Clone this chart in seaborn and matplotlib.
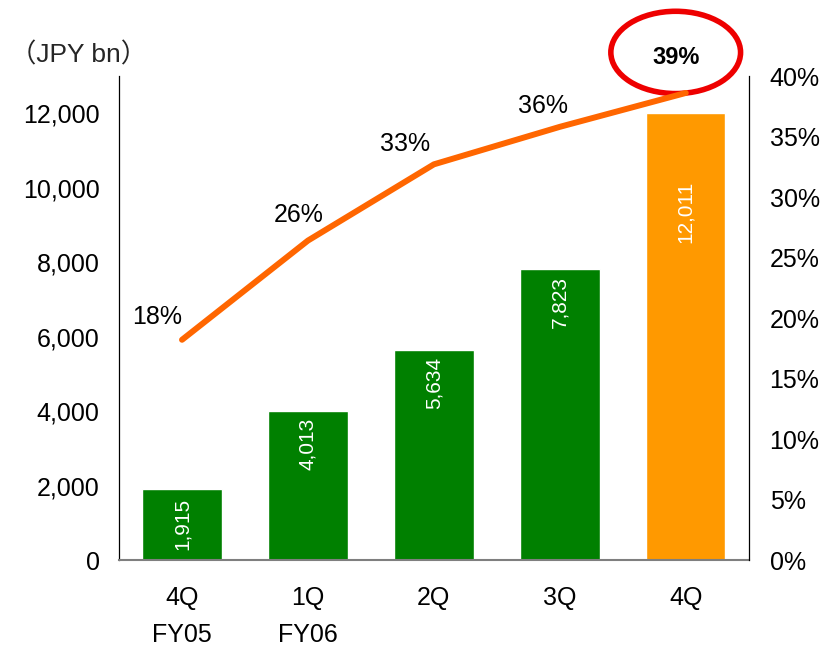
import matplotlib
matplotlib.use("Agg")
import matplotlib.pyplot as plt
from matplotlib.patches import Ellipse
import seaborn as sns
import pandas as pd

# Data
quarters = ["4Q\nFY05", "1Q\nFY06", "2Q", "3Q", "4Q"]
balance = [1915, 4013, 5634, 7823, 12011]          # JPY bn
share_pct = [18.2, 26.4, 32.7, 35.8, 38.6]           # %
bar_colors = ["#008000", "#008000", "#008000", "#008000", "#FF9900"]
left_ticks = [0, 2000, 4000, 6000, 8000, 10000, 12000]
right_ticks = [0, 5, 10, 15, 20, 25, 30, 35, 40]

sns.set_theme(style="white")
plt.rcParams["font.family"] = ["Liberation Sans", "Noto Sans CJK JP", "DejaVu Sans"]

df = pd.DataFrame({"quarter": quarters, "balance": balance})

fig = plt.figure(figsize=(8.21, 6.48), dpi=100)
ax = fig.add_axes([0.145, 0.1358, 0.767, 0.7469])

sns.barplot(data=df, x="quarter", y="balance", hue="quarter", palette=bar_colors,
            order=quarters, width=0.63, legend=False, saturation=1, ax=ax)
ax.set_xlim(-0.5, 4.5)
ax.set_ylim(0, 13000)
ax.set_yticks(left_ticks)
ax.set_yticklabels([f"{v:,}" for v in left_ticks])
ax.set_xlabel("")
ax.set_ylabel("")
ax.tick_params(axis="y", length=0, pad=14, labelsize=18, colors="black")
ax.tick_params(axis="x", length=0, pad=19, labelsize=18, colors="black")
for lab in ax.get_xticklabels():
    lab.set_linespacing(1.65)
    lab.set_verticalalignment("top")

for side in ["top", "right"]:
    ax.spines[side].set_visible(False)
ax.spines["left"].set_color("black")
ax.spines["left"].set_linewidth(0.9)
ax.spines["bottom"].set_color("#7f7f7f")
ax.spines["bottom"].set_linewidth(1.5)

# Value labels inside the bars
for i, v in enumerate(balance):
    if i == 0:
        ax.annotate(f"{v:,}", (i, v / 2), ha="center", va="center", rotation=90,
                    color="white", fontsize=15)
    else:
        off = -49 if i == 4 else -5
        ax.annotate(f"{v:,}", (i, v), xytext=(0, off), textcoords="offset points",
                    ha="center", va="top", rotation=90, color="white", fontsize=15)

# Share line on the right axis
ax2 = ax.twinx()
sns.lineplot(x=list(range(len(share_pct))), y=[p / 100 for p in share_pct], ax=ax2,
             color="#FF6600", linewidth=4.3, solid_capstyle="round")
ax2.set_ylim(0, 0.40)
ax2.set_xlim(-0.5, 4.5)
ax2.set_yticks([t / 100 for t in right_ticks])
ax2.set_yticklabels([f"{t}%" for t in right_ticks])
ax2.tick_params(axis="y", length=0, pad=15, labelsize=18, colors="black")
ax2.set_ylabel("")
for side in ["top", "left", "bottom"]:
    ax2.spines[side].set_visible(False)
ax2.spines["right"].set_color("black")
ax2.spines["right"].set_linewidth(0.9)

label_offsets = [(-18, 8), (-7, 10), (-21, 6), (-12, 6), (-7, 17)]
for i, (p, (dx, dy)) in enumerate(zip(share_pct, label_offsets)):
    bold = i == len(share_pct) - 1
    ax2.annotate(f"{p:.0f}%", (i, p / 100), xytext=(dx, dy), textcoords="offset points",
                 ha="center", va="bottom", fontsize=18 if not bold else 17,
                 fontweight="bold" if bold else "normal", color="black")

# Highlight ring around the latest share
ring = Ellipse((3.92, 0.4195), width=1.03, height=0.068, fill=False,
               edgecolor="#EE0000", linewidth=4, clip_on=False)
ax2.add_patch(ring)

fig.text(0.012, 0.915, "（JPY bn）", fontsize=19, ha="left", va="center",
         family=["Liberation Sans", "Noto Sans CJK JP"])

fig.savefig("out.png", dpi=100)
